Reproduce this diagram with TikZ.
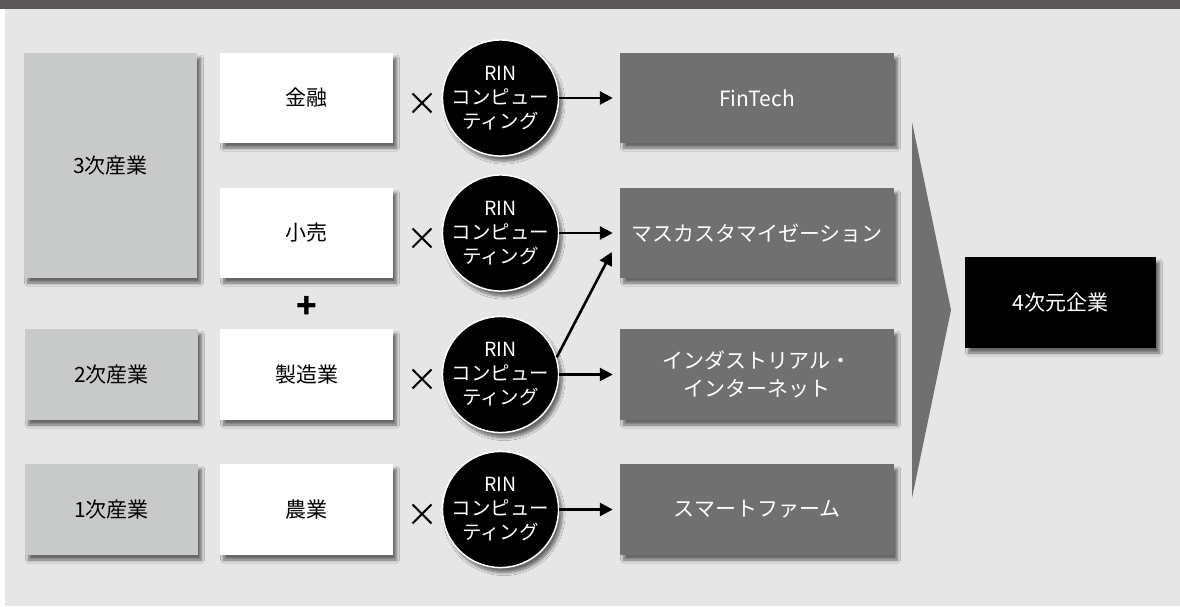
\documentclass[tikz,border=0pt]{standalone}
\usepackage{fontspec}
\setmainfont{Noto Sans CJK JP}
\usetikzlibrary{shadows.blur,arrows.meta,calc}
\definecolor{barc}{HTML}{5A5859}
\definecolor{bgc}{HTML}{E6E6E6}
\definecolor{lgray}{HTML}{C8C9C9}
\definecolor{dgray}{HTML}{707070}
\tikzset{
  shad/.style={blur shadow={shadow xshift=3.5pt, shadow yshift=-5pt, shadow blur radius=3pt, shadow blur steps=8, shadow opacity=55}},
  indbox/.style={shad, fill=lgray, minimum width=173pt, inner sep=0pt, font=\fontsize{21}{26}\selectfont, text=black},
  whbox/.style={shad, fill=white, minimum width=173pt, minimum height=90pt, inner sep=0pt, font=\fontsize{21}{26}\selectfont, text=black},
  outbox/.style={shad, fill=dgray, minimum width=274pt, minimum height=90pt, inner sep=0pt, align=center, font=\fontsize{21}{28}\selectfont, text=white},
  rinc/.style={shad, circle, fill=black, draw=white, line width=1.5pt, minimum size=112pt, inner sep=0pt, align=center, text=white, font=\fontsize{19.5}{24}\selectfont},
  timesmark/.style={inner sep=0pt, font=\fontsize{32}{32}\selectfont},
  conn/.style={line width=2.6pt, -{Triangle[length=13pt,width=13pt]}, shorten >=0pt},
}
\begin{document}
\begin{tikzpicture}[x=1pt,y=-1pt]
\useasboundingbox (0,0) rectangle (1180,606);
\fill[barc] (0,0) rectangle (1180,9);
\fill[bgc] (5,9) rectangle (1180,606);
% left column
\node[indbox, minimum height=225pt] (i3) at (110.5,165.5) {3次産業};
\node[indbox, minimum height=91pt] (i2) at (111.5,374.5) {2次産業};
\node[indbox, minimum height=91pt] (i1) at (111.5,509.5) {1次産業};
% white column
\node[whbox] (w1) at (306.5,98) {金融};
\node[whbox] (w2) at (306.5,233) {小売};
\node[whbox, minimum height=91pt] (w3) at (306.5,374.5) {製造業};
\node[whbox, minimum height=91pt] (w4) at (306.5,509.5) {農業};
\node[inner sep=0pt, font=\bfseries\fontsize{34}{34}\selectfont] (plus) at (307,307) {+};
% times marks
\node[timesmark] (x1) at (422,104) {×};
\node[timesmark] (x2) at (422,239) {×};
\node[timesmark] (x3) at (422,380) {×};
\node[timesmark] (x4) at (422,515) {×};
% circles
\node[rinc] (c1) at (500.5,98) {RIN\\コンピュー\\ティング};
\node[rinc] (c2) at (500.5,233) {RIN\\コンピュー\\ティング};
\node[rinc] (c3) at (500.5,374.5) {RIN\\コンピュー\\ティング};
\node[rinc] (c4) at (500.5,509.5) {RIN\\コンピュー\\ティング};
% outputs
\node[outbox] (d1) at (757,98) {FinTech};
\node[outbox] (d2) at (757,233) {マスカスタマイゼーション};
\node[outbox, minimum height=91pt] (d3) at (757,374.5) {インダストリアル・\\インターネット};
\node[outbox, minimum height=91pt] (d4) at (757,509.5) {スマートファーム};
% connectors
\draw[conn, shorten >=7pt] (c1.east) -- (d1.west);
\draw[conn, shorten >=7pt] (c2.east) -- (d2.west);
\draw[conn, shorten >=7pt] (c3.east) -- (d3.west);
\draw[conn, shorten >=7pt] (c4.east) -- (d4.west);
\coordinate (diagend) at ($(d2.west)+(-8,19)$);
\draw[conn] (c3.17) -- (diagend);
% chevron
\fill[dgray] (912,122) -- (951,310) -- (912,498) -- cycle;
% final
\node[shad, fill=black, minimum width=191pt, minimum height=91pt, inner sep=0pt, text=white, font=\fontsize{21}{26}\selectfont] (f) at (1060.5,302.5) {4次元企業};
\end{tikzpicture}
\end{document}
